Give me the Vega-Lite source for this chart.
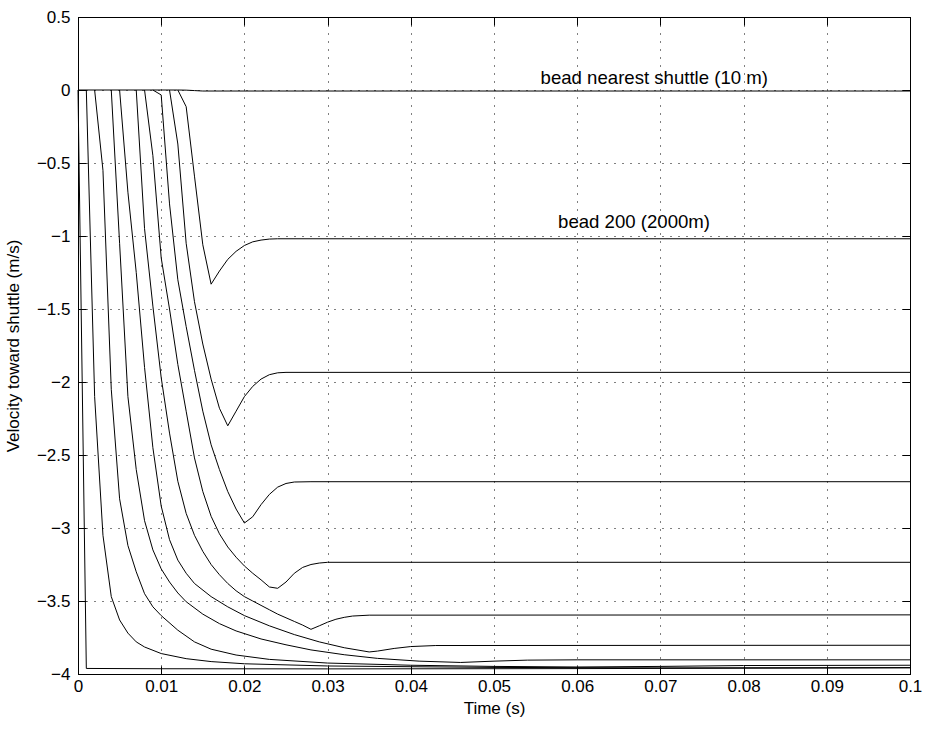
{
  "$schema": "https://vega.github.io/schema/vega-lite/v6.json",
  "width": 832,
  "height": 657,
  "autosize": "none",
  "padding": {"left": 78, "top": 17, "right": 18, "bottom": 56},
  "background": "white",
  "config": {
    "view": {"stroke": "black", "strokeWidth": 1},
    "font": "Liberation Sans",
    "axis": {
      "labelFont": "Liberation Sans", "labelFontSize": 17, "labelColor": "black",
      "titleFont": "Liberation Sans", "titleFontSize": 17, "titleFontWeight": "normal", "titleColor": "black",
      "domainColor": "black", "tickColor": "black", "tickSize": -8, "labelFlush": false, "labelOverlap": false,
      "gridColor": "black", "gridDash": [1, 7], "gridOpacity": 1, "gridWidth": 1
    }
  },
  "datasets": {
    "curves": [
      {"b": "n", "t": 0, "v": 0}, {"b": "n", "t": 0.012, "v": 0}, {"b": "n", "t": 0.013, "v": -0.001}, {"b": "n", "t": 0.014, "v": -0.004}, {"b": "n", "t": 0.015, "v": -0.007}, {"b": "n", "t": 0.1, "v": -0.007},
      {"b": "k0", "t": 0, "v": 0}, {"b": "k0", "t": 0.001, "v": -3.962}, {"b": "k0", "t": 0.01, "v": -3.964}, {"b": "k0", "t": 0.03, "v": -3.965}, {"b": "k0", "t": 0.06, "v": -3.963}, {"b": "k0", "t": 0.1, "v": -3.958},
      {"b": "k1", "t": 0.001, "v": 0}, {"b": "k1", "t": 0.002, "v": -2.1}, {"b": "k1", "t": 0.003, "v": -3.05}, {"b": "k1", "t": 0.004, "v": -3.47}, {"b": "k1", "t": 0.005, "v": -3.63}, {"b": "k1", "t": 0.006, "v": -3.72}, {"b": "k1", "t": 0.007, "v": -3.78}, {"b": "k1", "t": 0.008, "v": -3.815}, {"b": "k1", "t": 0.01, "v": -3.86}, {"b": "k1", "t": 0.013, "v": -3.895}, {"b": "k1", "t": 0.016, "v": -3.915}, {"b": "k1", "t": 0.02, "v": -3.93}, {"b": "k1", "t": 0.03, "v": -3.945}, {"b": "k1", "t": 0.05, "v": -3.955}, {"b": "k1", "t": 0.07, "v": -3.958}, {"b": "k1", "t": 0.1, "v": -3.956},
      {"b": "k2", "t": 0.002, "v": 0}, {"b": "k2", "t": 0.003, "v": -0.55}, {"b": "k2", "t": 0.004, "v": -2.05}, {"b": "k2", "t": 0.005, "v": -2.8}, {"b": "k2", "t": 0.006, "v": -3.12}, {"b": "k2", "t": 0.007, "v": -3.3}, {"b": "k2", "t": 0.008, "v": -3.45}, {"b": "k2", "t": 0.009, "v": -3.54}, {"b": "k2", "t": 0.01, "v": -3.6}, {"b": "k2", "t": 0.012, "v": -3.7}, {"b": "k2", "t": 0.014, "v": -3.78}, {"b": "k2", "t": 0.016, "v": -3.83}, {"b": "k2", "t": 0.019, "v": -3.87}, {"b": "k2", "t": 0.023, "v": -3.9}, {"b": "k2", "t": 0.03, "v": -3.925}, {"b": "k2", "t": 0.04, "v": -3.94}, {"b": "k2", "t": 0.05, "v": -3.948}, {"b": "k2", "t": 0.06, "v": -3.952}, {"b": "k2", "t": 0.07, "v": -3.948}, {"b": "k2", "t": 0.08, "v": -3.942}, {"b": "k2", "t": 0.1, "v": -3.94},
      {"b": "k3", "t": 0.004, "v": 0}, {"b": "k3", "t": 0.005, "v": -1.05}, {"b": "k3", "t": 0.006, "v": -2.1}, {"b": "k3", "t": 0.007, "v": -2.6}, {"b": "k3", "t": 0.008, "v": -2.95}, {"b": "k3", "t": 0.009, "v": -3.15}, {"b": "k3", "t": 0.01, "v": -3.28}, {"b": "k3", "t": 0.011, "v": -3.37}, {"b": "k3", "t": 0.012, "v": -3.445}, {"b": "k3", "t": 0.013, "v": -3.505}, {"b": "k3", "t": 0.015, "v": -3.59}, {"b": "k3", "t": 0.017, "v": -3.655}, {"b": "k3", "t": 0.019, "v": -3.705}, {"b": "k3", "t": 0.022, "v": -3.76}, {"b": "k3", "t": 0.025, "v": -3.8}, {"b": "k3", "t": 0.028, "v": -3.835}, {"b": "k3", "t": 0.032, "v": -3.868}, {"b": "k3", "t": 0.036, "v": -3.893}, {"b": "k3", "t": 0.041, "v": -3.912}, {"b": "k3", "t": 0.046, "v": -3.921}, {"b": "k3", "t": 0.05, "v": -3.912}, {"b": "k3", "t": 0.054, "v": -3.905}, {"b": "k3", "t": 0.06, "v": -3.903}, {"b": "k3", "t": 0.1, "v": -3.903},
      {"b": "k4", "t": 0.005, "v": 0}, {"b": "k4", "t": 0.006, "v": -0.7}, {"b": "k4", "t": 0.007, "v": -1.25}, {"b": "k4", "t": 0.008, "v": -1.9}, {"b": "k4", "t": 0.009, "v": -2.45}, {"b": "k4", "t": 0.01, "v": -2.85}, {"b": "k4", "t": 0.011, "v": -3.08}, {"b": "k4", "t": 0.012, "v": -3.22}, {"b": "k4", "t": 0.013, "v": -3.31}, {"b": "k4", "t": 0.014, "v": -3.38}, {"b": "k4", "t": 0.016, "v": -3.47}, {"b": "k4", "t": 0.018, "v": -3.54}, {"b": "k4", "t": 0.02, "v": -3.6}, {"b": "k4", "t": 0.023, "v": -3.67}, {"b": "k4", "t": 0.026, "v": -3.73}, {"b": "k4", "t": 0.029, "v": -3.78}, {"b": "k4", "t": 0.032, "v": -3.82}, {"b": "k4", "t": 0.035, "v": -3.849}, {"b": "k4", "t": 0.036, "v": -3.843}, {"b": "k4", "t": 0.038, "v": -3.825}, {"b": "k4", "t": 0.04, "v": -3.812}, {"b": "k4", "t": 0.043, "v": -3.805}, {"b": "k4", "t": 0.1, "v": -3.803},
      {"b": "k5", "t": 0.007, "v": 0}, {"b": "k5", "t": 0.008, "v": -0.95}, {"b": "k5", "t": 0.009, "v": -1.48}, {"b": "k5", "t": 0.01, "v": -1.97}, {"b": "k5", "t": 0.011, "v": -2.35}, {"b": "k5", "t": 0.012, "v": -2.68}, {"b": "k5", "t": 0.013, "v": -2.9}, {"b": "k5", "t": 0.014, "v": -3.05}, {"b": "k5", "t": 0.015, "v": -3.16}, {"b": "k5", "t": 0.016, "v": -3.25}, {"b": "k5", "t": 0.017, "v": -3.32}, {"b": "k5", "t": 0.018, "v": -3.38}, {"b": "k5", "t": 0.019, "v": -3.43}, {"b": "k5", "t": 0.02, "v": -3.47}, {"b": "k5", "t": 0.021, "v": -3.5}, {"b": "k5", "t": 0.022, "v": -3.53}, {"b": "k5", "t": 0.023, "v": -3.56}, {"b": "k5", "t": 0.024, "v": -3.59}, {"b": "k5", "t": 0.025, "v": -3.615}, {"b": "k5", "t": 0.026, "v": -3.64}, {"b": "k5", "t": 0.027, "v": -3.665}, {"b": "k5", "t": 0.028, "v": -3.694}, {"b": "k5", "t": 0.029, "v": -3.67}, {"b": "k5", "t": 0.03, "v": -3.645}, {"b": "k5", "t": 0.031, "v": -3.625}, {"b": "k5", "t": 0.032, "v": -3.612}, {"b": "k5", "t": 0.033, "v": -3.603}, {"b": "k5", "t": 0.035, "v": -3.597}, {"b": "k5", "t": 0.1, "v": -3.595},
      {"b": "k6", "t": 0.008, "v": 0}, {"b": "k6", "t": 0.009, "v": -0.45}, {"b": "k6", "t": 0.01, "v": -1.15}, {"b": "k6", "t": 0.011, "v": -1.5}, {"b": "k6", "t": 0.012, "v": -1.88}, {"b": "k6", "t": 0.013, "v": -2.2}, {"b": "k6", "t": 0.014, "v": -2.52}, {"b": "k6", "t": 0.015, "v": -2.75}, {"b": "k6", "t": 0.016, "v": -2.92}, {"b": "k6", "t": 0.017, "v": -3.04}, {"b": "k6", "t": 0.018, "v": -3.13}, {"b": "k6", "t": 0.019, "v": -3.2}, {"b": "k6", "t": 0.02, "v": -3.26}, {"b": "k6", "t": 0.021, "v": -3.31}, {"b": "k6", "t": 0.022, "v": -3.355}, {"b": "k6", "t": 0.023, "v": -3.404}, {"b": "k6", "t": 0.024, "v": -3.413}, {"b": "k6", "t": 0.025, "v": -3.37}, {"b": "k6", "t": 0.026, "v": -3.31}, {"b": "k6", "t": 0.027, "v": -3.27}, {"b": "k6", "t": 0.028, "v": -3.25}, {"b": "k6", "t": 0.029, "v": -3.24}, {"b": "k6", "t": 0.03, "v": -3.235}, {"b": "k6", "t": 0.1, "v": -3.235},
      {"b": "k7", "t": 0.009, "v": 0}, {"b": "k7", "t": 0.01, "v": -0.034}, {"b": "k7", "t": 0.011, "v": -0.78}, {"b": "k7", "t": 0.012, "v": -1.3}, {"b": "k7", "t": 0.013, "v": -1.62}, {"b": "k7", "t": 0.014, "v": -1.92}, {"b": "k7", "t": 0.015, "v": -2.2}, {"b": "k7", "t": 0.016, "v": -2.43}, {"b": "k7", "t": 0.017, "v": -2.6}, {"b": "k7", "t": 0.018, "v": -2.75}, {"b": "k7", "t": 0.019, "v": -2.87}, {"b": "k7", "t": 0.02, "v": -2.966}, {"b": "k7", "t": 0.021, "v": -2.923}, {"b": "k7", "t": 0.022, "v": -2.84}, {"b": "k7", "t": 0.023, "v": -2.77}, {"b": "k7", "t": 0.024, "v": -2.72}, {"b": "k7", "t": 0.025, "v": -2.695}, {"b": "k7", "t": 0.026, "v": -2.685}, {"b": "k7", "t": 0.028, "v": -2.683}, {"b": "k7", "t": 0.1, "v": -2.683},
      {"b": "k8", "t": 0.011, "v": 0}, {"b": "k8", "t": 0.012, "v": -0.37}, {"b": "k8", "t": 0.013, "v": -1.05}, {"b": "k8", "t": 0.014, "v": -1.45}, {"b": "k8", "t": 0.015, "v": -1.74}, {"b": "k8", "t": 0.016, "v": -1.98}, {"b": "k8", "t": 0.017, "v": -2.18}, {"b": "k8", "t": 0.018, "v": -2.3}, {"b": "k8", "t": 0.019, "v": -2.2}, {"b": "k8", "t": 0.02, "v": -2.1}, {"b": "k8", "t": 0.021, "v": -2.03}, {"b": "k8", "t": 0.022, "v": -1.98}, {"b": "k8", "t": 0.023, "v": -1.95}, {"b": "k8", "t": 0.024, "v": -1.937}, {"b": "k8", "t": 0.025, "v": -1.934}, {"b": "k8", "t": 0.1, "v": -1.934},
      {"b": "k9", "t": 0.012, "v": 0}, {"b": "k9", "t": 0.013, "v": -0.114}, {"b": "k9", "t": 0.014, "v": -0.59}, {"b": "k9", "t": 0.015, "v": -1.06}, {"b": "k9", "t": 0.016, "v": -1.33}, {"b": "k9", "t": 0.017, "v": -1.24}, {"b": "k9", "t": 0.018, "v": -1.16}, {"b": "k9", "t": 0.019, "v": -1.105}, {"b": "k9", "t": 0.02, "v": -1.065}, {"b": "k9", "t": 0.021, "v": -1.04}, {"b": "k9", "t": 0.022, "v": -1.028}, {"b": "k9", "t": 0.023, "v": -1.021}, {"b": "k9", "t": 0.024, "v": -1.019}, {"b": "k9", "t": 0.1, "v": -1.019}
    ],
    "labels": [
      {"label": "bead nearest shuttle (10 m)", "t": 0.0556, "v": 0.041},
      {"label": "bead 200 (2000m)", "t": 0.0577, "v": -0.946}
    ]
  },
  "layer": [
    {
      "data": {"name": "curves"},
      "mark": {"type": "line", "color": "black", "strokeWidth": 1},
      "encoding": {
        "x": {"field": "t", "type": "quantitative", "scale": {"domain": [0, 0.1], "nice": false, "zero": false},
          "axis": {"orient": "bottom", "values": [0, 0.01, 0.02, 0.03, 0.04, 0.05, 0.06, 0.07, 0.08, 0.09, 0.1], "format": ".2~f", "title": "Time (s)", "labelPadding": 12, "titlePadding": 6, "grid": true}},
        "y": {"field": "v", "type": "quantitative", "scale": {"domain": [-4, 0.5], "nice": false, "zero": false},
          "axis": {"orient": "left", "values": [-4, -3.5, -3, -2.5, -2, -1.5, -1, -0.5, 0, 0.5], "format": ".1~f", "title": "Velocity toward shuttle (m/s)", "labelPadding": 16, "titlePadding": 14, "grid": true}},
        "detail": {"field": "b"},
        "order": {"field": "t"}
      }
    },
    {
      "data": {"name": "labels"},
      "mark": {"type": "text", "align": "left", "baseline": "alphabetic", "fontSize": 18.6, "font": "Liberation Sans", "color": "black"},
      "encoding": {
        "x": {"field": "t", "type": "quantitative", "axis": null},
        "y": {"field": "v", "type": "quantitative", "axis": null},
        "text": {"field": "label"}
      }
    },
    {
      "data": {"values": [{}]},
      "mark": {"type": "point", "opacity": 0},
      "encoding": {
        "x": {"datum": 0, "type": "quantitative", "axis": {"orient": "top", "values": [0, 0.01, 0.02, 0.03, 0.04, 0.05, 0.06, 0.07, 0.08, 0.09, 0.1], "labels": false, "title": null, "grid": false}},
        "y": {"datum": 0, "type": "quantitative", "axis": {"orient": "right", "values": [-4, -3.5, -3, -2.5, -2, -1.5, -1, -0.5, 0, 0.5], "labels": false, "title": null, "grid": false}}
      }
    }
  ],
  "resolve": {"axis": {"x": "independent", "y": "independent"}}
}
